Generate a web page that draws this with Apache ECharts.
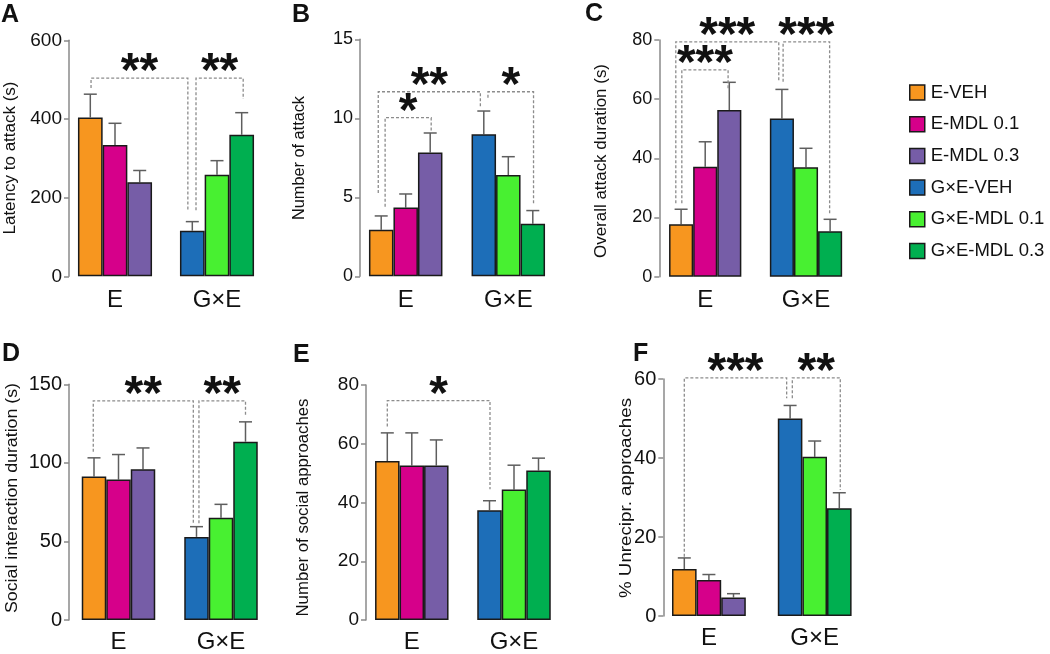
<!DOCTYPE html>
<html><head><meta charset="utf-8">
<script src="https://cdn.jsdelivr.net/npm/echarts@6/dist/echarts.min.js"></script>
<style>html,body{margin:0;padding:0;background:#fff}#c{width:1050px;height:654px}</style>
</head><body><div id="c"></div><script>
const FONT = '"Liberation Sans", Arial, sans-serif';
const groups = ['E', 'G×E'];
const seriesNames = ['E-VEH', 'E-MDL 0.1', 'E-MDL 0.3', 'G×E-VEH', 'G×E-MDL 0.1', 'G×E-MDL 0.3'];
const colors = ['#F7961F', '#D6008A', '#765DA7', '#1D6EB8', '#48F031', '#00AF50'];

// A: latency to attack (s)
const latencyMean = [404, 334, 239, 116, 258, 360];
const latencyErr = [59, 55, 30, 23, 36, 56];
// B: number of attack
const attackMean = [2.95, 4.35, 7.83, 8.99, 6.41, 3.33];
const attackErr = [0.87, 0.86, 1.24, 1.47, 1.16, 0.83];
// C: overall attack duration (s)
const durationMean = [17.7, 37.2, 56.3, 53.5, 37.0, 15.4];
const durationErr = [5.1, 8.4, 9.4, 9.8, 6.4, 4.0];
// D: social interaction duration (s)
const socialMean = [91.3, 89.4, 95.9, 52.9, 65.0, 113.5];
const socialErr = [11.9, 15.9, 13.6, 6.5, 8.6, 12.6];
// E: number of social approaches
const approachMean = [54.1, 52.6, 52.6, 37.4, 44.4, 50.9];
const approachErr = [9.6, 11.1, 8.7, 3.2, 8.3, 4.2];
// F: % unreciprocated approaches
const unrecMean = [11.9, 9.1, 4.7, 50.0, 40.3, 27.3];
const unrecErr = [2.8, 1.4, 0.95, 3.3, 4.0, 3.9];

// significance brackets: [barA, legA, barB, legB, top, stars]
const latencyBrackets = [[0, 479, 3, 168, 504, '**'], [3, 168, 5, 451, 504, '**']];
const attackBrackets = [[0, 5.27, 3, 10.65, 11.68, '**'], [0, 4.4, 2, 9.09, 10.04, '*'], [3, 11.3, 5, 4.58, 11.68, '*']];
const durationBrackets = [[0, 24.8, 3, 65.9, 79.4, '***'], [0, 24.8, 2, 63.1, 69.9, '***'], [3, 65.9, 5, 20.8, 79.4, '***']];
const socialBrackets = [[0, 107, 3, 61.5, 139.5, '**'], [3, 61.5, 5, 130, 139.5, '**']];
const approachBrackets = [[0, 65.9, 3, 44.5, 74.7, '*']];
const unrecBrackets = [[0, 15.0, 3, 55.1, 60.3, '***'], [3, 55.1, 5, 31.9, 60.3, '**']];

const panels = [
  {letter: 'A', name: 'Latency to attack (s)', mean: latencyMean, err: latencyErr, br: latencyBrackets, max: 600, interval: 200,
   grid: {left: 64, top: 40.3, width: 204, height: 236}, axOff: -5, barW: 24.7, tickFont: 19, catMargin: 12,
   nudge: [[0.03, -0.18], [0.15, 0.06]], nameX: 11, nameY: 158, nameLen: 153, letterX: 1, letterY: 3},
  {letter: 'B', name: 'Number of attack', mean: attackMean, err: attackErr, br: attackBrackets, max: 15, interval: 5,
   grid: {left: 354.4, top: 39.3, width: 205.2, height: 237}, axOff: -5.6, barW: 24.5, tickFont: 18, catMargin: 12,
   nudge: [[-0.12, -0.14], [0.16, 0.04], [0.17, 0.03]], nameX: 300, nameY: 158, nameLen: 124, letterX: 292, letterY: 3},
  {letter: 'C', name: 'Overall attack duration (s)', mean: durationMean, err: durationErr, br: durationBrackets, max: 80, interval: 20,
   grid: {left: 654.8, top: 40, width: 201.6, height: 236.7}, axOff: -4.5, barW: 24.1, tickFont: 18, catMargin: 12,
   nudge: [[-0.22, -0.13], [0.03, -0.05], [0.05, -0.02]], nameX: 601.5, nameY: 161, nameLen: 194, letterX: 585, letterY: 2},
  {letter: 'D', name: 'Social interaction duration (s)', mean: socialMean, err: socialErr, br: socialBrackets, max: 150, interval: 50,
   grid: {left: 67.25, top: 384.3, width: 205, height: 238.4}, axOff: -1.75, barW: 24.5, tickFont: 20, catMargin: 10,
   nudge: [[-0.03, -0.13], [0.1, 0]], nameX: 12.5, nameY: 498, nameLen: 230, letterX: 2, letterY: 342},
  {letter: 'E', name: 'Number of social approaches', mean: approachMean, err: approachErr, br: approachBrackets, max: 80, interval: 20,
   grid: {left: 360.7, top: 385, width: 204.4, height: 236.7}, axOff: -5.3, barW: 24.5, tickFont: 19, catMargin: 10,
   nudge: [[0, 0.02]], nameX: 304, nameY: 507.5, nameLen: 218, letterX: 293, letterY: 343},
  {letter: 'F', name: '% Unrecipr. approaches', mean: unrecMean, err: unrecErr, br: unrecBrackets, max: 60, interval: 20,
   grid: {left: 656, top: 379, width: 211.6, height: 237}, axOff: -7.3, barW: 24.6, tickFont: 20, catMargin: 10,
   nudge: [[0, -0.14], [0.09, 0.04]], nameX: 627, nameY: 498, nameLen: 200, letterX: 633, letterY: 342}
];

const mctx = document.createElement('canvas').getContext('2d');
function textScale(text, size, len) {
  mctx.font = size + 'px ' + FONT;
  return len / mctx.measureText(text).width;
}

const grids = [], xAxes = [], yAxes = [], series = [], graphics = [];
panels.forEach((p, i) => {
  grids.push(Object.assign({containLabel: false}, p.grid));
  xAxes.push({type: 'category', gridIndex: i, data: groups,
    axisLine: {show: false}, axisTick: {show: false},
    axisLabel: {fontSize: 24, color: '#111', fontFamily: FONT, margin: p.catMargin}});
  yAxes.push({type: 'value', gridIndex: i, min: 0, max: p.max, interval: p.interval, offset: p.axOff,
    axisLine: {show: true, lineStyle: {color: '#8a8a8a', width: 1.5}},
    axisTick: {show: true, length: 5, lineStyle: {color: '#8a8a8a', width: 1.5}},
    axisLabel: {fontSize: p.tickFont, color: '#111', fontFamily: FONT, margin: 7},
    splitLine: {show: false}});
  seriesNames.forEach((nm, k) => {
    const cat = Math.floor(k / 3);
    series.push({type: 'bar', name: nm, xAxisIndex: i, yAxisIndex: i, stack: 'p' + i + 's' + (k % 3),
      barWidth: p.barW, barGap: '0%', z: 3, silent: true,
      itemStyle: {color: colors[k], borderColor: '#1a1a1a', borderWidth: 1.5},
      data: cat === 0 ? [p.mean[k], '-'] : ['-', p.mean[k]]});
  });
  const barW = p.barW;
  series.push({type: 'custom', name: 'err' + i, xAxisIndex: i, yAxisIndex: i, z: 2, silent: true, clip: false,
    encode: {x: 0, y: 2},
    data: p.mean.map((m, k) => [Math.floor(k / 3), (k % 3) - 1, m, p.err[k]]),
    renderItem: function (params, api) {
      const cat = api.value(0), slot = api.value(1), m = api.value(2), e = api.value(3);
      const p0 = api.coord([cat, m]), p1 = api.coord([cat, m + e]);
      const x = p0[0] + slot * barW;
      const st = {stroke: '#5e5e5e', lineWidth: 1.5};
      return {type: 'group', children: [
        {type: 'line', shape: {x1: x, y1: p0[1], x2: x, y2: p1[1]}, style: st},
        {type: 'line', shape: {x1: x - 6.5, y1: p1[1], x2: x + 6.5, y2: p1[1]}, style: st}
      ]};
    }});
  const br = p.br, nudge = p.nudge;
  series.push({type: 'custom', name: 'sig' + i, xAxisIndex: i, yAxisIndex: i, z: 4, silent: true, clip: false,
    encode: {x: 0, y: 1},
    data: br.map(b => [Math.floor(b[0] / 3), b[4]]),
    renderItem: function (params, api) {
      const b = br[params.dataIndex], n = nudge[params.dataIndex];
      const pa = api.coord([Math.floor(b[0] / 3), b[1]]);
      const pb = api.coord([Math.floor(b[2] / 3), b[3]]);
      const pt = api.coord([0, b[4]]);
      const xa = pa[0] + ((b[0] % 3) - 1 + n[0]) * barW;
      const xb = pb[0] + ((b[2] % 3) - 1 + n[1]) * barW;
      const ls = {stroke: '#8c8c8c', lineWidth: 1.3, lineDash: [3, 2], fill: null};
      return {type: 'group', children: [
        {type: 'polyline', shape: {points: [[xa, pa[1]], [xa, pt[1]], [xb, pt[1]], [xb, pb[1]]]}, style: ls},
        {type: 'text', x: (xa + xb) / 2, y: pt[1] - 5,
         style: {text: b[5], fontSize: 48, fontWeight: 'bold', fontFamily: FONT, fill: '#111', align: 'center', verticalAlign: 'middle'}}
      ]};
    }});
  graphics.push({type: 'text', x: p.letterX, y: p.letterY, silent: true,
    style: {text: p.letter, fontSize: 25, fontWeight: 'bold', fontFamily: FONT, fill: '#111', align: 'left', verticalAlign: 'top'}});
  graphics.push({type: 'text', x: p.nameX, y: p.nameY, rotation: Math.PI / 2, scaleX: textScale(p.name, 16, p.nameLen), silent: true,
    style: {text: p.name, fontSize: 16, fontFamily: FONT, fill: '#111', align: 'center', verticalAlign: 'middle'}});
});

const chart = echarts.init(document.getElementById('c'), null, {renderer: 'canvas'});
chart.setOption({
  animation: false,
  backgroundColor: '#fff',
  grid: grids, xAxis: xAxes, yAxis: yAxes, series: series, graphic: graphics,
  legend: {data: seriesNames, orient: 'vertical', left: 904, top: 78, itemWidth: 15, itemHeight: 15, itemGap: 12.7,
    icon: 'rect', selectedMode: false, itemStyle: {borderColor: '#1a1a1a', borderWidth: 1.5},
    textStyle: {fontSize: 18.5, color: '#111', fontFamily: FONT, padding: [0, 0, 0, 1]}}
});
</script></body></html>
